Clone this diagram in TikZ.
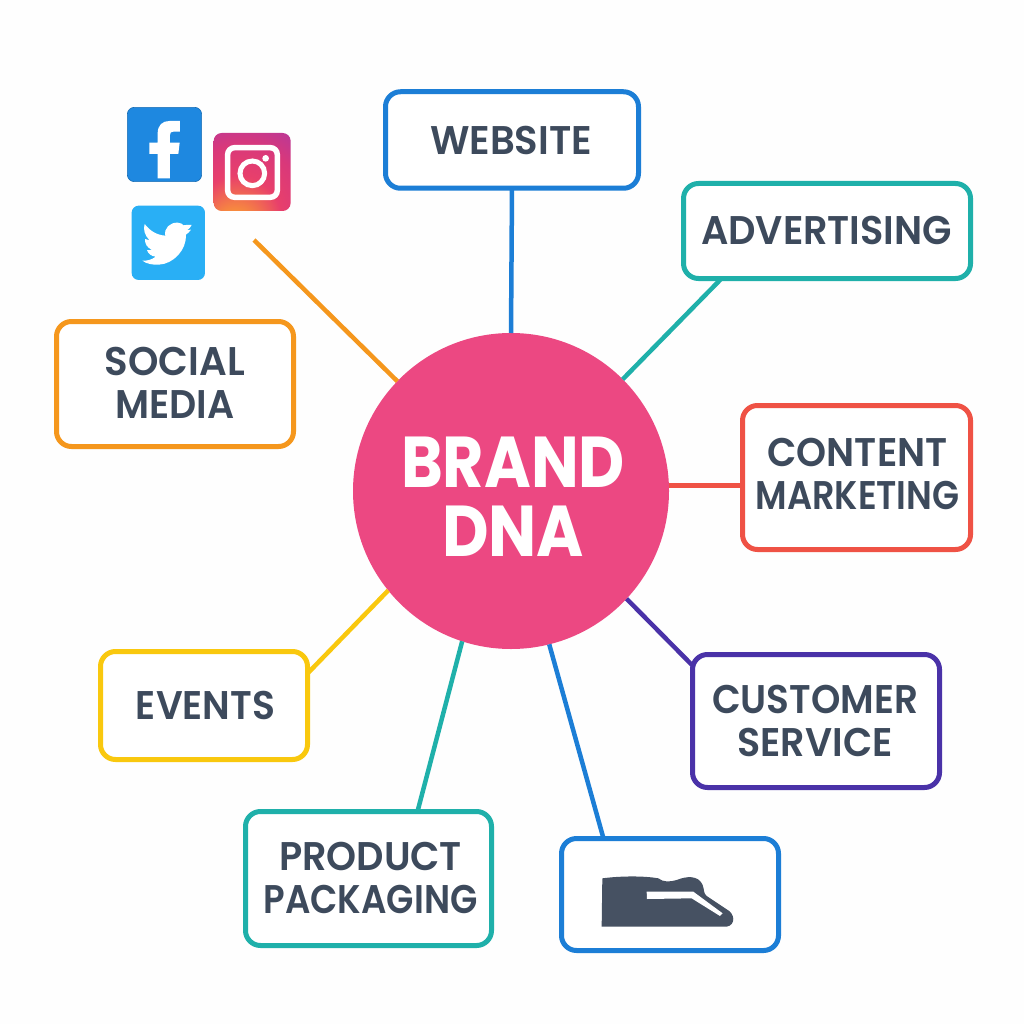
\documentclass[tikz,border=0pt]{standalone}
\usepackage{fontspec}
\usepackage{graphicx}
\setmainfont{Poppins}[UprightFont=* SemiBold,BoldFont=* Bold]
\usetikzlibrary{calc}
\definecolor{cBlue}{HTML}{1C7ED6}
\definecolor{cTeal}{HTML}{1FB0AA}
\definecolor{cRed}{HTML}{EF5245}
\definecolor{cIndigo}{HTML}{4A32A8}
\definecolor{cYellow}{HTML}{F9C80E}
\definecolor{cOrange}{HTML}{F5971D}
\definecolor{cPink}{HTML}{EC4882}
\definecolor{cText}{HTML}{3D4A5C}
\definecolor{cShoe}{HTML}{465162}
\definecolor{cFb}{HTML}{1E88E0}
\definecolor{cTw}{HTML}{29AFF5}
\pgfdeclareradialshading{igshade}{\pgfpoint{-13bp}{-42bp}}{
 rgb(0bp)=(0.98,0.65,0.25);
 rgb(12bp)=(0.97,0.55,0.24);
 rgb(28bp)=(0.91,0.25,0.42);
 rgb(42bp)=(0.85,0.22,0.48);
 rgb(55bp)=(0.72,0.22,0.60);
 rgb(64bp)=(0.42,0.30,0.77);
 rgb(100bp)=(0.35,0.28,0.78)}
\newcommand\fitw[2]{\resizebox{#1pt}{\height}{#2}}
\tikzset{
 boxnode/.style={draw=#1,line width=5pt,rounded corners=15pt,fill=white,outer sep=0pt,inner sep=0pt},
 boxtext/.style={inner sep=0pt,align=center,text=cText,font=\fontsize{40}{43}\selectfont},
 link/.style={draw=#1,line width=4.5pt},
}
\begin{document}
\begin{tikzpicture}[x=1pt,y=-1pt]
\useasboundingbox (0,0) rectangle (1024,1024);
\fill[white!99.6!black] (0,0) rectangle (1024,1024);
% nodes
\node[circle,fill=cPink,minimum size=316pt,inner sep=0pt,outer sep=0pt] (dna) at (511,491) {};
\node[inner sep=0pt,align=center,text=white,font=\bfseries\fontsize{72}{69}\selectfont] (dnaT) at (513,497) {\fitw{224}{BRAND}\\\fitw{142}{DNA}};
\node[boxnode=cBlue,minimum width=253pt,minimum height=96.5pt] (web) at (512,140) {};
\node[boxnode=cTeal,minimum width=287pt,minimum height=95pt] (adv) at (827,231) {};
\node[boxnode=cRed,minimum width=228pt,minimum height=144pt] (con) at (856.5,477.5) {};
\node[boxnode=cIndigo,minimum width=247pt,minimum height=133pt] (cus) at (816,721) {};
\node[boxnode=cBlue,minimum width=217pt,minimum height=112pt] (sho) at (670,894.5) {};
\node[boxnode=cTeal,minimum width=246pt,minimum height=134pt] (pro) at (368.5,878.5) {};
\node[boxnode=cYellow,minimum width=207pt,minimum height=108pt] (eve) at (204,705.5) {};
\node[boxnode=cOrange,minimum width=237pt,minimum height=125pt] (soc) at (175,384) {};
\node[boxtext] (webT) at (511,140) {\fitw{162}{WEBSITE}};
\node[boxtext] (advT) at (826.5,230) {\fitw{251}{ADVERTISING}};
\node[boxtext] (conT) at (857.5,473.5) {\fitw{180}{CONTENT}\\\fitw{204}{MARKETING}};
\node[boxtext] (cusT) at (815,720.5) {\fitw{206}{CUSTOMER}\\\fitw{155}{SERVICE}};
\node[boxtext] (proT) at (370.5,878) {\fitw{183}{PRODUCT}\\\fitw{214}{PACKAGING}};
\node[boxtext] (eveT) at (205.5,705) {\fitw{139}{EVENTS}};
\node[boxtext] (socT) at (175,383) {\fitw{140}{SOCIAL}\\\fitw{119}{MEDIA}};
\coordinate (icons) at (254,240);
% connectors
\draw[link=cBlue] (web.south) -- (dna.90);
\draw[link=cTeal] ([xshift=38pt]adv.south west) -- (dna.45.5);
\draw[link=cRed] (dna.2) -- (dna.2 -| con.west);
\draw[link=cIndigo] (dna.-43.7) -- ([yshift=-11pt]cus.north west);
\draw[link=cBlue] (dna.-76.8) -- ([xshift=42pt]sho.north west);
\draw[link=cTeal] (dna.-108.5) -- ([xshift=172pt]pro.north west);
\draw[link=cYellow] (dna.219.8) -- ([yshift=-22pt]eve.north east);
\draw[link=cOrange] (dna.136.5) -- (icons);
% icons
\begin{scope}[shift={(110,90)},x=0.3333pt,y=-0.3333pt]
\fill[cFb,rounded corners=7pt] (52,52) rectangle (275,275);
\draw[cFb!80!black,line width=0.6pt,rounded corners=7pt] (52,52) rectangle (275,275);
\fill[white] (210,93) -- (210,125) -- (190,125) .. controls (183,125) and (180,128) .. (180,135) -- (180,158) -- (209,158) -- (205,192) -- (180,192) -- (180,265) -- (143,265) -- (143,192) -- (118,192) -- (118,158) -- (143,158) -- (143,130) .. controls (143,105) and (158,93) .. (178,93) -- cycle;
\fill[cTw,rounded corners=7pt] (65,347) rectangle (285,570);
\fill[white] (97,512) .. controls (112,513) and (126,509) .. (137,500) .. controls (124,499) and (114,491) .. (111,480) .. controls (116,481) and (121,481) .. (125,479) .. controls (112,473) and (104,462) .. (105,447) .. controls (109,449) and (114,451) .. (119,451) .. controls (104,437) and (99,418) .. (104,402) .. controls (120,423) and (140,435) .. (166,437) .. controls (161,415) and (180,397) .. (203,398) .. controls (211,398) and (217,402) .. (221,406) .. controls (229,405) and (237,403) .. (245,405) .. controls (242,412) and (237,417) .. (231,421) .. controls (235,421) and (239,421) .. (243,419) .. controls (239,425) and (234,430) .. (228,434) .. controls (230,480) and (190,522) .. (147,524) .. controls (128,525) and (110,522) .. (97,512) -- cycle;
\shade[shading=igshade,rounded corners=8pt] (311,129) rectangle (542,363);
\draw[white,line width=5.5pt,rounded corners=7pt] (353,173) rectangle (502,322);
\draw[white,line width=5pt] (427,250) circle[radius=37];
\fill[white] (467,205) circle[radius=10];
\end{scope}
\begin{scope}[shift={(550,830)},x=0.3333pt,y=-0.3333pt]
\fill[cShoe] (157,145) .. controls (210,138) and (280,137) .. (325,145) .. controls (340,157) and (360,156) .. (380,150) .. controls (410,138) and (445,135) .. (458,165) .. controls (463,178) and (460,190) .. (470,198) -- (530,238) .. controls (555,250) and (558,285) .. (530,290) -- (155,290) -- cycle;
\fill[white] (290,185) -- (430,185) -- (518,250) -- (510,258) -- (425,205) -- (291,207) -- cycle;
\end{scope}
\end{tikzpicture}
\end{document}
